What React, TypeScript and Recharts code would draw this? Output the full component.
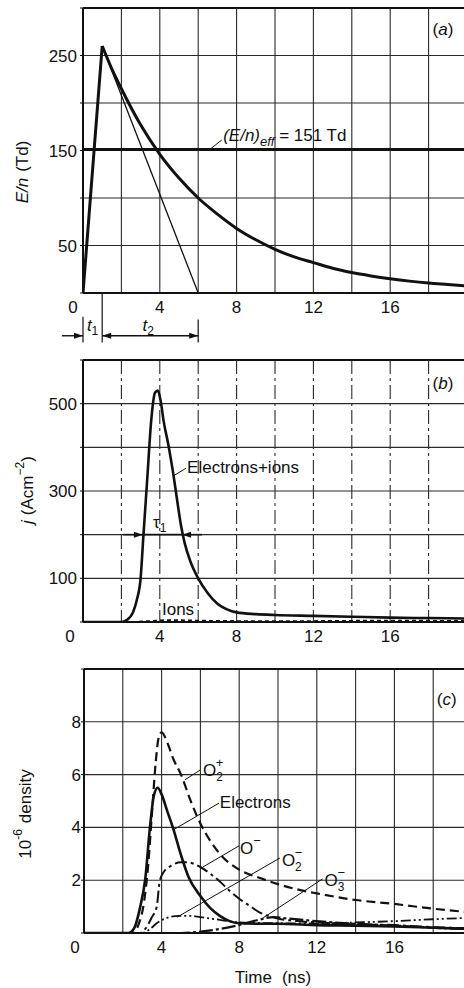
import React from "react";
import {
  LineChart,
  Line,
  XAxis,
  YAxis,
  CartesianGrid,
  ReferenceLine,
  ReferenceDot,
} from "recharts";

const FONT = '"Liberation Sans", Arial, sans-serif';
const INK = "#111";
const GRID = "#2a2a2a";
const CHART_W = 480;

const TIME_TICKS = [0, 2, 4, 6, 8, 10, 12, 14, 16, 18, 20];
const TIME_LABELS = [0, 4, 8, 12, 16];

// (a) reduced field E/n (Td)
const FIELD_RISE_T = [0, 1];
const FIELD_RISE = [0, 260];
const FIELD_DECAY_T = [1, 1.5, 2, 3, 4, 5, 6, 7, 8, 9, 10, 11, 12, 13, 14, 15, 16, 17, 18, 19, 20];
const FIELD_DECAY = [260, 236, 215, 177, 146, 121, 100, 83, 68, 56, 46, 38, 32, 26, 21.5, 18, 15, 12.5, 10.5, 9, 7.5];
const FIELD_LINEAR_T = [1, 6];
const FIELD_LINEAR = [260, 0];
const FIELD_EFF = 151;
const FIELD_TICKS = [0, 50, 100, 150, 200, 250, 300];
const FIELD_LABELS = [50, 150, 250];
const T1_END = 1;
const T2_END = 6;

// (b) current density j (A cm^-2)
const CURRENT_T = [0, 2.0, 2.3, 2.6, 2.8, 3.0, 3.15, 3.35, 3.55, 3.75, 3.9, 4.05, 4.2, 4.45, 4.7, 4.9, 5.1, 5.3, 5.6, 6.0, 6.5, 7.0, 7.5, 8.0, 9, 10, 12, 14, 16, 18, 20];
const CURRENT_J = [0, 0, 5, 22, 50, 100, 200, 330, 460, 525, 530, 505, 460, 405, 340, 280, 222, 180, 138, 100, 66, 42, 29, 22, 18, 16, 14, 12, 10, 9, 8];
const IONS_T = [0, 2.5, 3.5, 4.5, 6, 8, 12, 16, 20];
const IONS_J = [0, 0, 2, 4, 3, 2, 2, 3, 2];
const CURRENT_TICKS = [0, 100, 200, 300, 400, 500, 600];
const CURRENT_LABELS = [100, 300, 500];
const TAU_LEVEL = 200;

// (c) densities (x 10^-6)
const ELEC_T = [0, 2.3, 2.6, 2.9, 3.15, 3.4, 3.6, 3.8, 4.0, 4.3, 4.6, 5.0, 5.4, 6.0, 6.5, 7.0, 7.5, 8.0, 9, 10, 12, 14, 16, 18, 20];
const ELEC_N = [0, 0, 0.2, 1.0, 2.0, 4.0, 5.2, 5.5, 5.25, 4.6, 3.95, 2.95, 2.1, 1.4, 0.95, 0.65, 0.45, 0.37, 0.35, 0.35, 0.3, 0.28, 0.25, 0.2, 0.15];
const O2P_T = [0, 2.5, 2.8, 3.1, 3.3, 3.5, 3.7, 3.85, 4.0, 4.3, 4.6, 5.0, 5.5, 6.0, 6.5, 7.0, 8.0, 9, 10, 11, 12, 14, 16, 18, 20];
const O2P_N = [0, 0, 0.3, 1.2, 2.5, 4.5, 6.5, 7.4, 7.6, 7.2, 6.6, 6.0, 5.0, 4.15, 3.5, 3.0, 2.4, 2.1, 1.85, 1.65, 1.5, 1.25, 1.1, 0.92, 0.78];
const OM_T = [0, 2.9, 3.2, 3.5, 3.75, 3.9, 4.1, 4.5, 5.0, 5.3, 6.0, 6.5, 7.0, 7.5, 8.0, 8.5, 9.0, 10, 11, 12, 14, 16, 18, 20];
const OM_N = [0, 0, 0.2, 0.6, 1.0, 1.95, 2.3, 2.55, 2.68, 2.68, 2.5, 2.25, 1.95, 1.6, 1.3, 1.05, 0.8, 0.55, 0.45, 0.4, 0.33, 0.3, 0.22, 0.18];
const O2M_T = [0, 3.0, 3.4, 3.8, 4.2, 4.9, 5.5, 6.0, 7.0, 8.0, 9, 10, 12, 14, 16, 18, 20];
const O2M_N = [0, 0, 0.15, 0.4, 0.55, 0.65, 0.65, 0.6, 0.5, 0.4, 0.38, 0.37, 0.36, 0.4, 0.45, 0.52, 0.58];
const O3M_T = [0, 5, 6, 7, 8, 9, 9.8, 10.5, 12, 14, 16, 18, 20];
const O3M_N = [0, 0, 0.05, 0.15, 0.3, 0.5, 0.6, 0.55, 0.45, 0.35, 0.28, 0.2, 0.15];
const DENSITY_TICKS = [0, 2, 4, 6, 8, 10];
const DENSITY_LABELS = [2, 4, 6, 8];

const pts = (ts: number[], vs: number[]) => ts.map((t, i) => ({ t, v: vs[i] }));

const xTick = (zeroShift: number) => (p: any) => {
  const v = p.payload.value;
  if (!TIME_LABELS.includes(v)) return <g />;
  return (
    <text x={p.x + (v === 0 ? zeroShift : 0)} y={p.y + 20} textAnchor="middle" fontFamily={FONT} fontSize={17} fill={INK}>
      {v}
    </text>
  );
};

const yTick = (labels: number[], gap: number) => (p: any) => {
  const v = p.payload.value;
  if (!labels.includes(v)) return <g />;
  return (
    <text x={p.x - gap} y={p.y + 6} textAnchor="end" fontFamily={FONT} fontSize={17} fill={INK}>
      {v}
    </text>
  );
};

// arrow drawn along a ReferenceLine segment
const arrow = (start: boolean, end: boolean, width = 1.4) => (p: any) => {
  const { x1, y1, x2, y2 } = p;
  const head = (ax: number, ay: number, bx: number, by: number) => {
    const ang = Math.atan2(by - ay, bx - ax);
    const cx = bx - 9 * Math.cos(ang);
    const cy = by - 9 * Math.sin(ang);
    const nx = -Math.sin(ang) * 3;
    const ny = Math.cos(ang) * 3;
    return <polygon points={`${bx},${by} ${cx + nx},${cy + ny} ${cx - nx},${cy - ny}`} fill={INK} />;
  };
  return (
    <g>
      <line x1={x1} y1={y1} x2={x2} y2={y2} stroke={INK} strokeWidth={width} />
      {end && head(x1, y1, x2, y2)}
      {start && head(x2, y2, x1, y1)}
    </g>
  );
};

const note = (content: React.ReactNode, anchor: "start" | "middle" | "end" = "start", size = 17) => (p: any) => {
  const vb = p.viewBox || { x: 0, y: 0 };
  return (
    <text x={vb.x} y={vb.y} dy={6} textAnchor={anchor} fontFamily={FONT} fontSize={size} fill={INK}>
      {content}
    </text>
  );
};

const Title = ({ x, y, children }: { x: number; y: number; children: React.ReactNode }) => (
  <text
    transform={`rotate(-90 ${x} ${y})`}
    x={x}
    y={y}
    textAnchor="middle"
    dominantBaseline="central"
    fontFamily={FONT}
    fontSize={17}
    fill={INK}
  >
    {children}
  </text>
);

const ion = (sub: string | null, sup: string) => (
  <>
    <tspan>O</tspan>
    {sub && (
      <tspan dy={5} fontSize={12}>
        {sub}
      </tspan>
    )}
    <tspan dx={sub ? -7 : 0} dy={sub ? -14 : -9} fontSize={13}>
      {sup}
    </tspan>
  </>
);

const leader = (a: [number, number], b: [number, number], key: string) => (
  <ReferenceLine
    key={key}
    segment={[{ x: a[0], y: a[1] }, { x: b[0], y: b[1] }]}
    stroke={INK}
    strokeWidth={1}
    ifOverflow="visible"
  />
);

const xAxisProps = {
  type: "number" as const,
  dataKey: "t",
  domain: [0, 20],
  ticks: TIME_TICKS,
  interval: 0 as const,
  allowDataOverflow: true,
  tickLine: false,
  tickSize: 0,
  tickMargin: 0,
  axisLine: { stroke: INK, strokeWidth: 2 },
};

function FieldPanel() {
  return (
    <LineChart width={CHART_W} height={345} margin={{ top: 8, right: 13, bottom: 22, left: 0 }}>
      <CartesianGrid stroke={GRID} strokeWidth={1.1} />
      <XAxis {...xAxisProps} height={30} tick={xTick(-10)} />
      <YAxis
        type="number"
        width={83}
        domain={[0, 300]}
        ticks={FIELD_TICKS}
        interval={0}
        allowDataOverflow
        tickSize={3}
        tickMargin={0}
        tickLine={{ stroke: INK }}
        axisLine={{ stroke: INK, strokeWidth: 2 }}
        tick={yTick(FIELD_LABELS, 3)}
      />
      <ReferenceLine y={300} stroke={INK} strokeWidth={2} />
      <ReferenceLine y={FIELD_EFF} stroke={INK} strokeWidth={3} />
      <Line data={pts(FIELD_RISE_T, FIELD_RISE)} dataKey="v" type="linear" stroke={INK} strokeWidth={3} dot={false} activeDot={false} isAnimationActive={false} />
      <Line data={pts(FIELD_DECAY_T, FIELD_DECAY)} dataKey="v" type="monotone" stroke={INK} strokeWidth={3} dot={false} activeDot={false} isAnimationActive={false} />
      <Line data={pts(FIELD_LINEAR_T, FIELD_LINEAR)} dataKey="v" type="linear" stroke={INK} strokeWidth={1.3} dot={false} activeDot={false} isAnimationActive={false} />
      {leader([6.6, FIELD_EFF], [7.22, 161], "eff")}
      <ReferenceDot
        x={7.3}
        y={166}
        r={0}
        ifOverflow="visible"
        label={note(
          <>
            <tspan fontStyle="italic">(E/n)</tspan>
            <tspan dy={5} fontSize={13} fontStyle="italic">eff</tspan>
            <tspan dy={-5}> = 151 Td</tspan>
          </>
        )}
      />
      <ReferenceDot x={18.75} y={278} r={0} ifOverflow="visible" label={note(<>(<tspan fontStyle="italic">a</tspan>)</>, "middle")} />
      {/* t1 / t2 markers below the axis */}
      <ReferenceLine segment={[{ x: -1.1, y: -45 }, { x: 0, y: -45 }]} ifOverflow="visible" shape={arrow(false, true)} />
      <ReferenceLine segment={[{ x: T1_END, y: -45 }, { x: T2_END, y: -45 }]} ifOverflow="visible" shape={arrow(true, true)} />
      <ReferenceLine segment={[{ x: 0, y: -25 }, { x: 0, y: -52 }]} stroke={INK} strokeWidth={1.2} ifOverflow="visible" />
      <ReferenceLine segment={[{ x: T1_END, y: 0 }, { x: T1_END, y: -52 }]} stroke={INK} strokeWidth={1.2} ifOverflow="visible" />
      <ReferenceLine segment={[{ x: T2_END, y: -28 }, { x: T2_END, y: -52 }]} stroke={INK} strokeWidth={1.2} ifOverflow="visible" />
      <ReferenceDot x={0.5} y={-34} r={0} ifOverflow="visible" label={note(<><tspan fontStyle="italic">t</tspan><tspan dy={4} fontSize={12}>1</tspan></>, "middle")} />
      <ReferenceDot x={3.4} y={-34} r={0} ifOverflow="visible" label={note(<><tspan fontStyle="italic">t</tspan><tspan dy={4} fontSize={12}>2</tspan></>, "middle")} />
    </LineChart>
  );
}

function CurrentPanel() {
  return (
    <LineChart width={CHART_W} height={310} margin={{ top: 15, right: 13, bottom: 3, left: 0 }}>
      <CartesianGrid stroke={GRID} strokeWidth={1.1} vertical={false} />
      <CartesianGrid stroke={GRID} strokeWidth={1.1} horizontal={false} strokeDasharray="14 4 3 4" />
      <XAxis {...xAxisProps} height={30} tick={xTick(-13)} />
      <YAxis
        type="number"
        width={83}
        domain={[0, 600]}
        ticks={CURRENT_TICKS}
        interval={0}
        allowDataOverflow
        tickSize={3}
        tickMargin={0}
        tickLine={{ stroke: INK }}
        axisLine={{ stroke: INK, strokeWidth: 2 }}
        tick={yTick(CURRENT_LABELS, 3)}
      />
      <ReferenceLine y={600} stroke={INK} strokeWidth={2} />
      <Line data={pts(IONS_T, IONS_J)} dataKey="v" type="monotone" stroke={INK} strokeWidth={2} strokeDasharray="4 3" dot={false} activeDot={false} isAnimationActive={false} />
      <Line data={pts(CURRENT_T, CURRENT_J)} dataKey="v" type="monotone" stroke={INK} strokeWidth={2.6} dot={false} activeDot={false} isAnimationActive={false} />
      {leader([4.72, 335], [5.36, 352], "ei")}
      <ReferenceDot x={5.42} y={355} r={0} ifOverflow="visible" label={note("Electrons+ions")} />
      <ReferenceLine segment={[{ x: 2.08, y: TAU_LEVEL }, { x: 3.12, y: TAU_LEVEL }]} ifOverflow="visible" shape={arrow(false, true, 1.6)} />
      <ReferenceLine segment={[{ x: 6.2, y: TAU_LEVEL }, { x: 5.16, y: TAU_LEVEL }]} ifOverflow="visible" shape={arrow(false, true, 1.6)} />
      <ReferenceLine segment={[{ x: 3.12, y: TAU_LEVEL }, { x: 5.16, y: TAU_LEVEL }]} stroke={INK} strokeWidth={1.6} ifOverflow="visible" />
      <ReferenceDot x={4.0} y={229} r={0} ifOverflow="visible" label={note(<>τ<tspan dy={4} fontSize={12}>1</tspan></>, "middle")} />
      <ReferenceDot x={4.95} y={30} r={0} ifOverflow="visible" label={note("Ions", "middle")} />
      <ReferenceDot x={18.75} y={547} r={0} ifOverflow="visible" label={note(<>(<tspan fontStyle="italic">b</tspan>)</>, "middle")} />
    </LineChart>
  );
}

function DensityPanel() {
  return (
    <LineChart width={CHART_W} height={333} margin={{ top: 14, right: 8, bottom: 0, left: 0 }}>
      <CartesianGrid stroke={GRID} strokeWidth={1.1} />
      <XAxis
        {...xAxisProps}
        height={55}
        tick={xTick(-9)}
        label={() => (
          <text x={273} y={328} textAnchor="middle" fontFamily={FONT} fontSize={17} fill={INK}>
            Time<tspan dx={10}>(ns)</tspan>
          </text>
        )}
      />
      <YAxis
        type="number"
        width={84}
        domain={[0, 10]}
        ticks={DENSITY_TICKS}
        interval={0}
        allowDataOverflow
        tickSize={3}
        tickMargin={0}
        tickLine={{ stroke: INK }}
        axisLine={{ stroke: INK, strokeWidth: 2 }}
        tick={yTick(DENSITY_LABELS, 0)}
      />
      <ReferenceLine y={10} stroke={INK} strokeWidth={2} />
      <Line data={pts(O3M_T, O3M_N)} dataKey="v" type="monotone" stroke={INK} strokeWidth={2.2} strokeDasharray="14 3 3 3" dot={false} activeDot={false} isAnimationActive={false} />
      <Line data={pts(O2M_T, O2M_N)} dataKey="v" type="monotone" stroke={INK} strokeWidth={1.8} strokeDasharray="10 3 2 3 2 3" dot={false} activeDot={false} isAnimationActive={false} />
      <Line data={pts(OM_T, OM_N)} dataKey="v" type="monotone" stroke={INK} strokeWidth={2} strokeDasharray="12 4 3 4" dot={false} activeDot={false} isAnimationActive={false} />
      <Line data={pts(O2P_T, O2P_N)} dataKey="v" type="monotone" stroke={INK} strokeWidth={2.2} strokeDasharray="9 5" dot={false} activeDot={false} isAnimationActive={false} />
      <Line data={pts(ELEC_T, ELEC_N)} dataKey="v" type="monotone" stroke={INK} strokeWidth={2.6} dot={false} activeDot={false} isAnimationActive={false} />
      {leader([5.2, 5.8], [5.98, 6.17], "o2p")}
      {leader([4.59, 3.9], [6.96, 4.92], "el")}
      {leader([6.13, 2.5], [7.99, 3.3], "om")}
      {leader([4.8, 0.6], [10.1, 2.84], "o2m")}
      {leader([9.23, 0.57], [12.3, 2.05], "o3m")}
      <ReferenceDot x={6.13} y={6.17} r={0} ifOverflow="visible" label={note(ion("2", "+"))} />
      <ReferenceDot x={7.0} y={4.96} r={0} ifOverflow="visible" label={note("Electrons")} />
      <ReferenceDot x={8.04} y={3.22} r={0} ifOverflow="visible" label={note(ion(null, "−"))} />
      <ReferenceDot x={10.2} y={2.77} r={0} ifOverflow="visible" label={note(ion("2", "−"))} />
      <ReferenceDot x={12.4} y={2.0} r={0} ifOverflow="visible" label={note(ion("3", "−"))} />
      <ReferenceDot x={18.7} y={8.86} r={0} ifOverflow="visible" label={note(<>(<tspan fontStyle="italic">c</tspan>)</>, "middle")} />
    </LineChart>
  );
}

export default function App() {
  return (
    <div style={{ position: "fixed", left: 0, top: 0, width: 464, height: 988, overflow: "hidden", background: "#fff" }}>
      <div style={{ position: "absolute", left: 0, top: 0 }}>
        <FieldPanel />
        <svg width={60} height={345} style={{ position: "absolute", left: 0, top: 0 }}>
          <Title x={22} y={172}>
            <tspan fontStyle="italic">E/n</tspan>
            <tspan dx={6}>(Td)</tspan>
          </Title>
        </svg>
      </div>
      <div style={{ position: "absolute", left: 0, top: 345 }}>
        <CurrentPanel />
        <svg width={60} height={310} style={{ position: "absolute", left: 0, top: 0 }}>
          <Title x={27} y={145}>
            <tspan fontStyle="italic">j</tspan>
            <tspan dx={5}>(Acm</tspan>
            <tspan dy={-7} fontSize={12}>−2</tspan>
            <tspan dy={7}>)</tspan>
          </Title>
        </svg>
      </div>
      <div style={{ position: "absolute", left: 0, top: 655 }}>
        <DensityPanel />
        <svg width={60} height={333} style={{ position: "absolute", left: 0, top: 0 }}>
          <Title x={25} y={159}>
            10
            <tspan dy={-7} fontSize={12}>-6</tspan>
            <tspan dy={7} dx={6}>density</tspan>
          </Title>
        </svg>
      </div>
    </div>
  );
}
